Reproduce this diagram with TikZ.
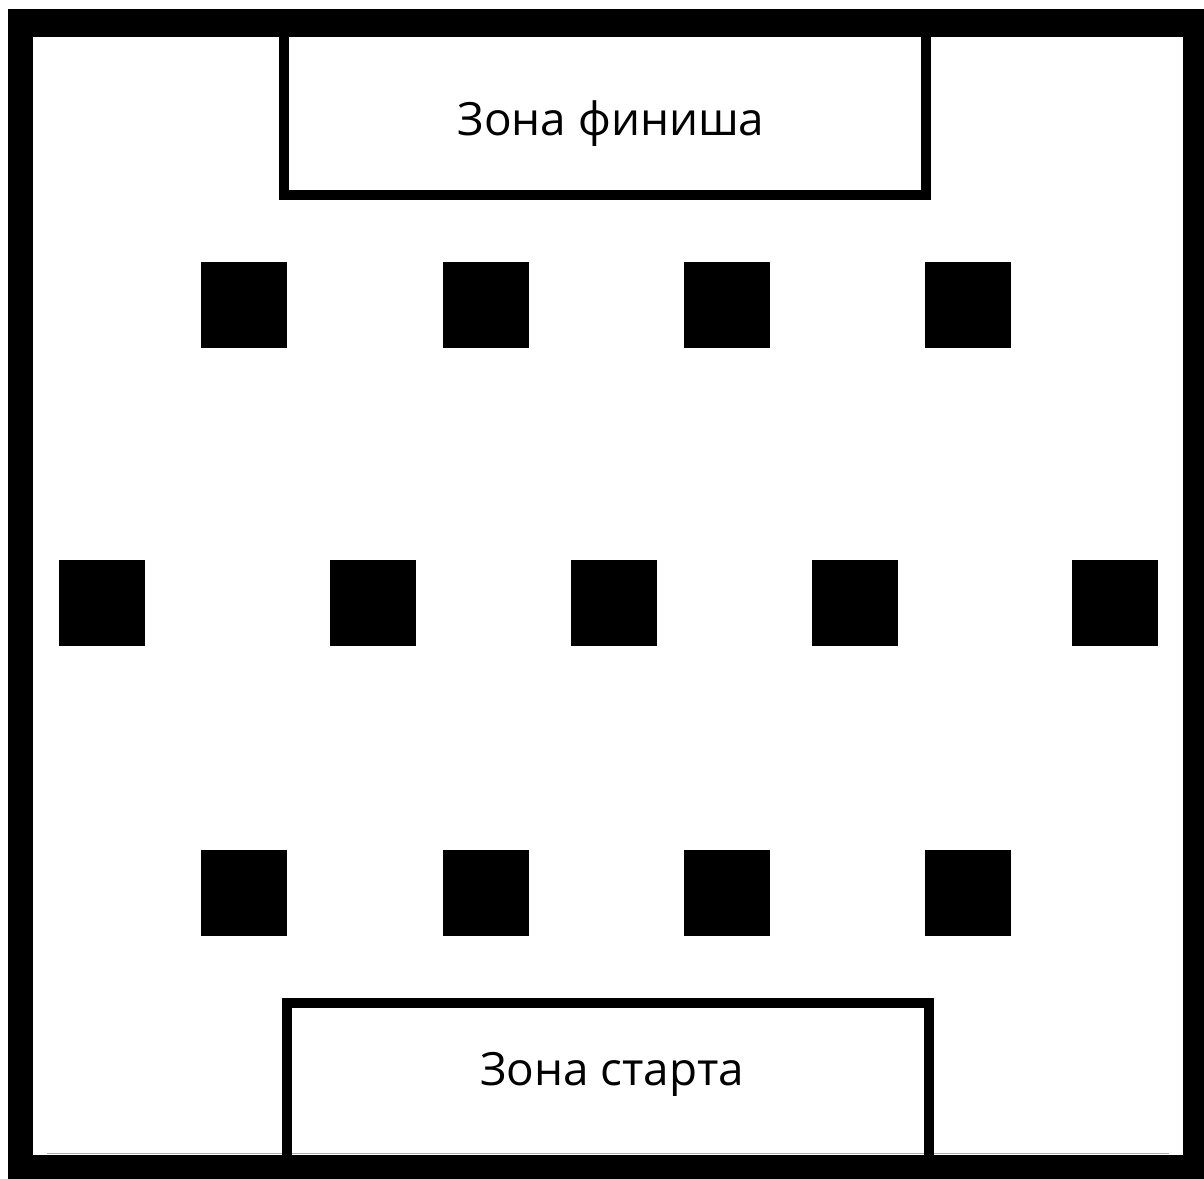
\documentclass[tikz,border=0pt]{standalone}
\usepackage{fontspec}
\setmainfont{Open Sans}
\begin{document}
\begin{tikzpicture}[x=1bp,y=-1bp,
  block/.style={fill=black},
  zone/.style={draw=black,line width=10bp,line join=miter},
  label/.style={anchor=base,inner sep=0pt,font=\fontsize{46}{50}\selectfont}]
\useasboundingbox (0,0) rectangle (1204,1179);
\fill[white] (0,0) rectangle (1204,1179);
% outer frame
\fill[black] (8,9) rectangle (1204,1179);
\fill[white] (33,37) rectangle (1183,1155);
\draw[color={rgb,255:red,240;green,160;blue,60},line width=1bp] (47,1153.5) -- (1169,1153.5);
% zones
\draw[zone] (284,37) -- (284,195) -- (925.5,195) -- (925.5,37);
\draw[zone] (286.5,1155) -- (286.5,1002.5) -- (928.5,1002.5) -- (928.5,1155);
\node[label] (finish) at (611,135) {Зона финиша};
\node[label] (start) at (612,1085) {Зона старта};
% obstacles
\foreach \x in {201,443,684,925}{
  \fill[block] (\x,262) rectangle ++(86,86);
  \fill[block] (\x,850) rectangle ++(86,86);
}
\foreach \x in {59,330,571,812,1072}{
  \fill[block] (\x,560) rectangle ++(86,86);
}
\end{tikzpicture}
\end{document}
